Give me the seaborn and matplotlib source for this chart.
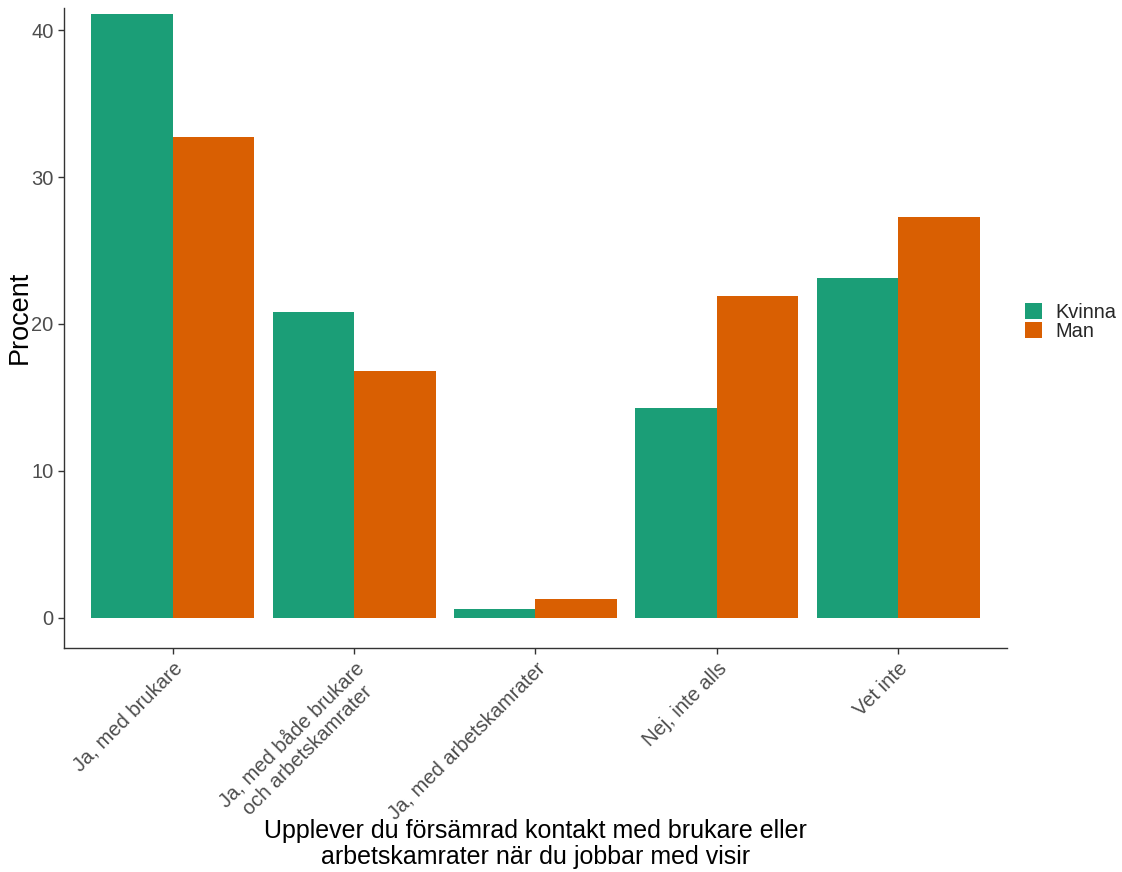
import pandas as pd
import matplotlib.pyplot as plt
import seaborn as sns

# data
kategorier = ['Ja, med brukare', 'Ja, med både brukare\noch arbetskamrater',
              'Ja, med arbetskamrater', 'Nej, inte alls', 'Vet inte']
kvinna = [41.1, 20.8, 0.6, 14.3, 23.1]
man = [32.7, 16.8, 1.3, 21.9, 27.3]
kon = ['Kvinna', 'Man']
farger = ['#1B9E77', '#D95F02']

sns.set_style('white')
plt.rcParams['font.family'] = ['Liberation Sans', 'DejaVu Sans']

df = pd.DataFrame({
    'svar': kategorier * 2,
    'kon': [kon[0]] * len(kategorier) + [kon[1]] * len(kategorier),
    'procent': kvinna + man,
})

fig = plt.figure(figsize=(11.22, 8.72), dpi=100)
ax = fig.add_axes([0.057, 0.2569, 0.8405, 0.7339])

sns.barplot(data=df, x='svar', y='procent', hue='kon', order=kategorier,
            hue_order=kon, palette=farger, width=0.9, saturation=1,
            edgecolor='none', linewidth=0, ax=ax)

ax.set_xlim(-0.6, 4.6)
ax.set_ylim(-2.05, 41.5)
ax.set_yticks([0, 10, 20, 30, 40])

for s in ['top', 'right']:
    ax.spines[s].set_visible(False)
for s in ['left', 'bottom']:
    ax.spines[s].set_color('#333333')
    ax.spines[s].set_linewidth(1.0)

ax.tick_params(axis='both', length=4, width=1, color='#333333',
               labelcolor='#4D4D4D', labelsize=14.5, left=True, bottom=True)
ax.set_xticks(range(len(kategorier)))
ax.set_xticklabels(kategorier, rotation=45, ha='right', rotation_mode='anchor',
                   multialignment='center', linespacing=1.2)

ax.set_ylabel('Procent', fontsize=19.5, color='black')
ax.yaxis.set_label_coords(-0.033, 0.517)
ax.set_xlabel('Upplever du försämrad kontakt med brukare eller\n'
              'arbetskamrater när du jobbar med visir',
              fontsize=18, color='black', linespacing=1.1)
ax.xaxis.set_label_coords(0.5, -0.268)
ax.xaxis.label.set_va('top')

ax.legend(title=None, frameon=False, loc='center left',
          bbox_to_anchor=(1.019, 0.509), borderpad=0, borderaxespad=0,
          fontsize=14.4, handlelength=0.85, handleheight=0.85,
          handletextpad=0.65, labelspacing=0.0)

fig.savefig('out.png', dpi=100)
